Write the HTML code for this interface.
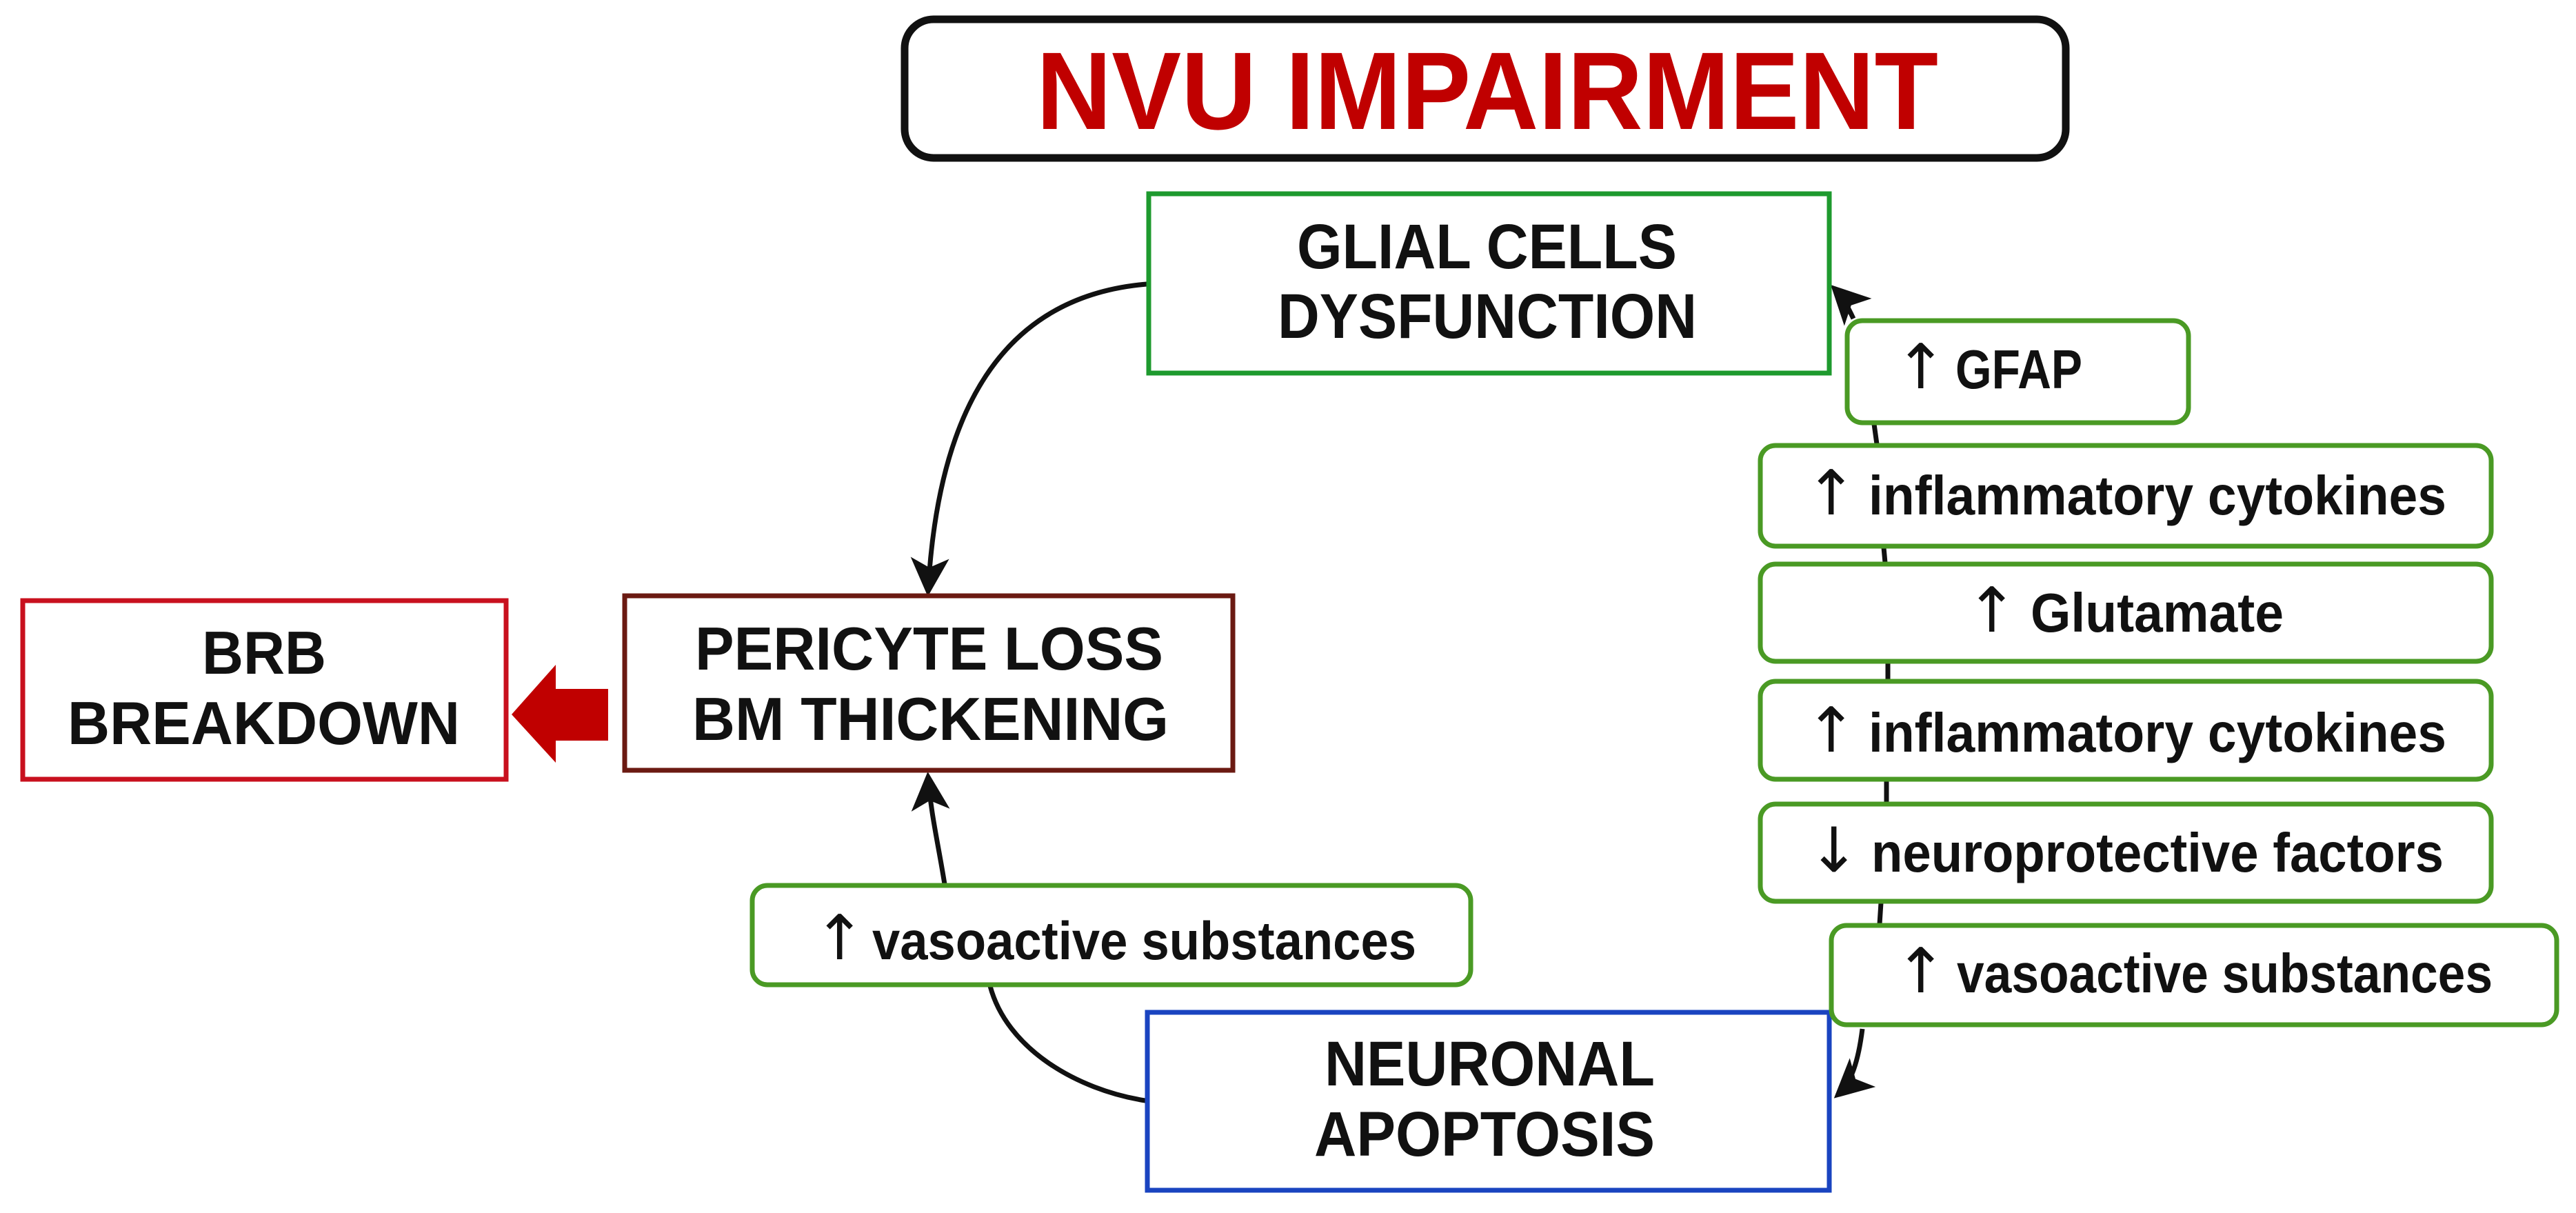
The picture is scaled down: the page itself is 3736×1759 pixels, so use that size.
<!DOCTYPE html>
<html><head><meta charset="utf-8"><style>
html,body{margin:0;padding:0;background:#fff;}
svg{display:block;}
.h{font-family:"Liberation Sans",sans-serif;font-weight:bold;fill:#111;}
.p{font-family:"Liberation Sans",sans-serif;font-weight:bold;fill:#111;}
.a{font-family:"DejaVu Sans",sans-serif;font-weight:normal;font-size:90px;}
</style></head><body>
<svg width="3736" height="1759" viewBox="0 0 3736 1759" xmlns="http://www.w3.org/2000/svg">
<defs>
<marker id="ah" markerWidth="8" markerHeight="8" refX="7" refY="4" orient="auto" markerUnits="strokeWidth">
<path d="M0,0 L8,4 L0,8 L2,4 z" fill="#111"/></marker>
</defs>
<g fill="none" stroke="#111" stroke-width="7">
<path d="M1663 412 C1450 430 1360 600 1346 858" marker-end="url(#ah)"/>
<path d="M1370 1282 C1360 1220 1350 1180 1346 1126" marker-end="url(#ah)"/>
<path d="M1661 1596 C1560 1580 1460 1520 1436 1430"/>
<path d="M2701 1492 C2695 1540 2685 1570 2665 1588" marker-end="url(#ah)"/>
<path d="M2688 462 C2680 445 2672 430 2660 418" marker-end="url(#ah)"/>
<path d="M2718 615 L2722 644 M2732 794 L2734 816 M2738 961 L2738 986 M2736 1132 L2736 1164 M2728 1309 L2726 1340"/>
</g>
<rect x="1312" y="28" width="1684" height="201" rx="42" fill="#fff" stroke="#111" stroke-width="11"/>
<text x="1503" y="187" class="h" font-size="160" style="fill:#c00000" textLength="1308" lengthAdjust="spacingAndGlyphs">NVU IMPAIRMENT</text>
<rect x="1666" y="281" width="987" height="260" fill="#fff" stroke="#1e9a2e" stroke-width="7"/>
<text x="1881" y="389" class="h" font-size="92" textLength="551" lengthAdjust="spacingAndGlyphs">GLIAL CELLS</text>
<text x="1853" y="490" class="h" font-size="92" textLength="608" lengthAdjust="spacingAndGlyphs">DYSFUNCTION</text>
<rect x="33" y="871" width="701" height="259" fill="#fff" stroke="#c8101e" stroke-width="7"/>
<text x="383" y="977" class="h" font-size="88" text-anchor="middle" textLength="180" lengthAdjust="spacingAndGlyphs">BRB</text>
<text x="98" y="1079" class="h" font-size="88" textLength="569" lengthAdjust="spacingAndGlyphs">BREAKDOWN</text>
<path d="M742 1036 L806 964 L806 999 L882 999 L882 1074 L806 1074 L806 1106 Z" fill="#c00000"/>
<rect x="906" y="864" width="882" height="253" fill="#fff" stroke="#6b1a12" stroke-width="7"/>
<text x="1008" y="971" class="h" font-size="88" textLength="679" lengthAdjust="spacingAndGlyphs">PERICYTE LOSS</text>
<text x="1004" y="1073" class="h" font-size="88" textLength="691" lengthAdjust="spacingAndGlyphs">BM THICKENING</text>
<rect x="1664" y="1468" width="989" height="258" fill="#fff" stroke="#1a44c0" stroke-width="7"/>
<text x="1921" y="1574" class="h" font-size="92" textLength="479" lengthAdjust="spacingAndGlyphs">NEURONAL</text>
<text x="1906" y="1676" class="h" font-size="92" textLength="494" lengthAdjust="spacingAndGlyphs">APOPTOSIS</text>
<g fill="#fff" stroke="#4a9a24" stroke-width="7">
<rect x="1091" y="1284" width="1042" height="144" rx="22"/>
<rect x="2679" y="465" width="495" height="148" rx="22"/>
<rect x="2553" y="646" width="1060" height="146" rx="22"/>
<rect x="2553" y="818" width="1060" height="141" rx="22"/>
<rect x="2553" y="988" width="1060" height="142" rx="22"/>
<rect x="2553" y="1166" width="1060" height="141" rx="22"/>
<rect x="2656" y="1342" width="1052" height="144" rx="22"/>
</g>
<g class="p">
<text x="1180" y="1391" class="a">↑</text><text x="1265" y="1391" class="p" font-size="78" textLength="789" lengthAdjust="spacingAndGlyphs">vasoactive substances</text>
<text x="2748" y="563" class="a">↑</text><text x="2836" y="563" class="p" font-size="80" textLength="184" lengthAdjust="spacingAndGlyphs">GFAP</text>
<text x="2618" y="746" class="a">↑</text><text x="2710" y="746" class="p" font-size="80" textLength="838" lengthAdjust="spacingAndGlyphs">inflammatory cytokines</text>
<text x="2851" y="916" class="a">↑</text><text x="2945" y="916" class="p" font-size="80" textLength="367" lengthAdjust="spacingAndGlyphs">Glutamate</text>
<text x="2618" y="1090" class="a">↑</text><text x="2710" y="1090" class="p" font-size="80" textLength="838" lengthAdjust="spacingAndGlyphs">inflammatory cytokines</text>
<text x="2622" y="1264" class="a">↓</text><text x="2714" y="1264" class="p" font-size="80" textLength="830" lengthAdjust="spacingAndGlyphs">neuroprotective factors</text>
<text x="2748" y="1439" class="a">↑</text><text x="2838" y="1439" class="p" font-size="80" textLength="777" lengthAdjust="spacingAndGlyphs">vasoactive substances</text>
</g>
</svg>
</body></html>
